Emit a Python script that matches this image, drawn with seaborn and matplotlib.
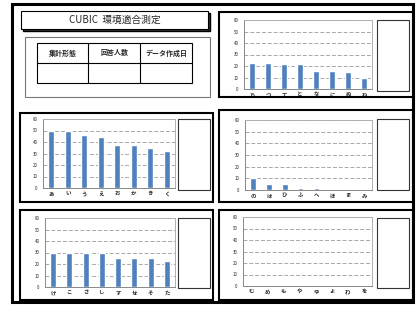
import matplotlib
matplotlib.use("Agg")
import matplotlib.pyplot as plt
from matplotlib.patches import Rectangle
import seaborn as sns
import pandas as pd

sns.set_style("white")
plt.rcParams['font.family'] = ['Noto Sans CJK JP', 'DejaVu Sans']

# ---- data ----
title_text = "CUBIC  環境適合測定"
table_headers = ["集計形態", "回答人数", "データ作成日"]

cats_tr = ["ち", "つ", "て", "と", "な", "に", "ぬ", "ね"]
vals_tr = [23, 23, 22, 22, 16, 16, 15, 10]

cats_ml = ["あ", "い", "う", "え", "お", "か", "き", "く"]
vals_ml = [50, 50, 46, 44.5, 37.5, 37.5, 35, 32.5]

cats_mr = ["の", "は", "ひ", "ふ", "へ", "ほ", "ま", "み"]
vals_mr = [10, 5, 5, 2, 2, 0, 0, 0]

cats_bl = ["け", "こ", "さ", "し", "す", "せ", "そ", "た"]
vals_bl = [30, 30, 30, 30, 25.5, 25.5, 25.5, 23]

cats_br = ["む", "め", "も", "や", "ゆ", "よ", "わ", "を"]
vals_br = [0, 0, 0, 0, 0, 0, 0, 0]

yticks = [0, 10, 20, 30, 40, 50, 60]

W, H = 417, 309
fig = plt.figure(figsize=(W / 100, H / 100), dpi=100)
fig.patch.set_facecolor("white")


def frac(x0, y0, x1, y1):
    return [x0 / W, 1 - y1 / H, (x1 - x0) / W, (y1 - y0) / H]


def box(x0, y0, x1, y1, lw=1.0, ec="black", fc="none", z=1):
    l, b, w, h = frac(x0, y0, x1, y1)
    fig.add_artist(Rectangle((l, b), w, h, transform=fig.transFigure,
                             lw=lw, ec=ec, fc=fc, zorder=z))


def line(x0, y0, x1, y1, lw=0.8, color="black"):
    fig.add_artist(plt.Line2D([x0 / W, x1 / W], [1 - y0 / H, 1 - y1 / H],
                              transform=fig.transFigure, lw=lw, color=color))


# outer frame
box(12, 4, 413, 302, lw=2.2)

# title box with shadow
box(23, 13, 210, 31, lw=1.0, fc="#333333", z=1)
box(21, 11, 208, 29, lw=0.8, fc="white", z=2)
fig.text((21 + 208) / 2 / W, 1 - 20 / H, title_text, ha="center", va="center",
         fontsize=7, zorder=3)

# table container
box(25, 37, 210, 97, lw=0.8, ec="#777777")
# inner table
box(37, 43, 192, 83, lw=0.8)
line(37, 63, 192, 63)
line(88, 43, 88, 83)
line(140, 43, 140, 83)
for cx, t in zip([(37 + 88) / 2, (88 + 140) / 2, (140 + 192) / 2], table_headers):
    fig.text(cx / W, 1 - 53 / H, t, ha="center", va="center", fontsize=5,
             fontweight="bold")


def panel(outer, plot, small, cats, vals):
    box(*outer, lw=1.5)
    box(*small, lw=0.8, ec="#333333")
    ax = fig.add_axes(frac(*plot))
    df = pd.DataFrame({"cat": cats, "val": vals})
    sns.barplot(data=df, x="cat", y="val", color="#4F81BD", width=0.37,
                saturation=1, ax=ax, zorder=3)
    ax.set_ylim(0, 60)
    ax.set_xlim(-0.5, len(cats) - 0.5)
    ax.set_yticks(yticks)
    ax.set_yticklabels([str(v) for v in yticks], fontsize=3.1)
    ax.set_xlabel("")
    ax.set_ylabel("")
    ax.tick_params(axis="x", which="major", length=0, labelsize=3.9, pad=2.5)
    ax.set_xticks([i - 0.5 for i in range(len(cats) + 1)], minor=True)
    ax.tick_params(axis="x", which="minor", length=2, width=0.5, color="#888888",
                   direction="out")
    ax.tick_params(axis="y", length=2, width=0.5, color="#888888", pad=2)
    for lab in ax.get_xticklabels():
        lab.set_fontweight("bold")
    for y in yticks[1:]:
        ax.axhline(y, color="#a8a8a8", lw=0.7, ls=(0, (4, 2)), zorder=1)
    for s in ["top", "right"]:
        ax.spines[s].set_color("#b0b0b0")
        ax.spines[s].set_linewidth(0.7)
    for s in ["left", "bottom"]:
        ax.spines[s].set_color("#888888")
        ax.spines[s].set_linewidth(0.7)
    ax.set_facecolor("white")
    return ax


panel((219, 12, 413, 97), (244, 20, 372, 89), (377, 20, 409, 91), cats_tr, vals_tr)
panel((20, 113, 213, 202), (43, 119, 175, 188), (178, 119, 210, 190), cats_ml, vals_ml)
panel((219, 110, 413, 202), (245, 120, 372, 190), (377, 119, 409, 190), cats_mr, vals_mr)
panel((20, 210, 213, 300), (45, 218, 175, 287), (178, 218, 210, 288), cats_bl, vals_bl)
panel((219, 210, 413, 300), (243, 217, 372, 286), (377, 218, 409, 288), cats_br, vals_br)

fig.savefig("out.png", dpi=100, facecolor="white")
